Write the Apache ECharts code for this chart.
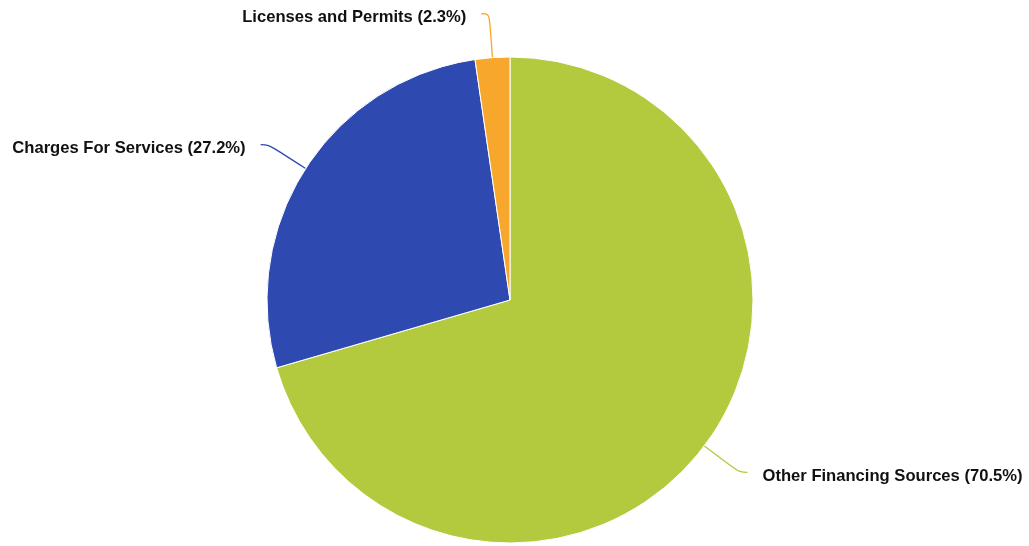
<!DOCTYPE html>
<html>
<head>
<meta charset="utf-8">
<script src="https://cdn.jsdelivr.net/npm/echarts@6/dist/echarts.min.js"></script>
<style>html,body{margin:0;padding:0;background:#fff;}#c{width:1029px;height:546px;}</style>
</head>
<body>
<div id="c"></div>
<script>
const categories = ['Other Financing Sources', 'Charges For Services', 'Licenses and Permits'];
const values = [70.5, 27.2, 2.3];
const colors = ['#b3ca3e', '#2e4ab0', '#f6a72c'];

const total = values.reduce((a, b) => a + b, 0);
const chart = echarts.init(document.getElementById('c'));
const txt = { color: '#111', fontFamily: '"Liberation Sans", Arial, sans-serif', fontWeight: 'bold', fontSize: 16.6, padding: [8, 0, 0, 0] };
chart.setOption({
  animation: false,
  series: [{
    type: 'pie',
    center: [510, 300],
    radius: [0, 243],
    startAngle: 90,
    clockwise: true,
    avoidLabelOverlap: true,
    itemStyle: { borderColor: '#fff', borderWidth: 1 },
    label: {
      show: true,
      position: 'outside',
      overflow: 'none',
      color: '#111',
      fontFamily: '"Liberation Sans", Arial, sans-serif',
      fontWeight: 'bold',
      fontSize: 16.6,
      distanceToLabelLine: 15,
      formatter: p => '{t|' + p.name + ' (' + (p.value / total * 100).toFixed(1) + '%)}',
      rich: { t: txt }
    },
    labelLine: { show: true, length: 44, length2: 8, smooth: 0.4, lineStyle: { width: 1.3 } },
    data: categories.map((n, i) => ({ name: n, value: values[i], itemStyle: { color: colors[i] } }))
  }]
});
</script>
</body>
</html>
